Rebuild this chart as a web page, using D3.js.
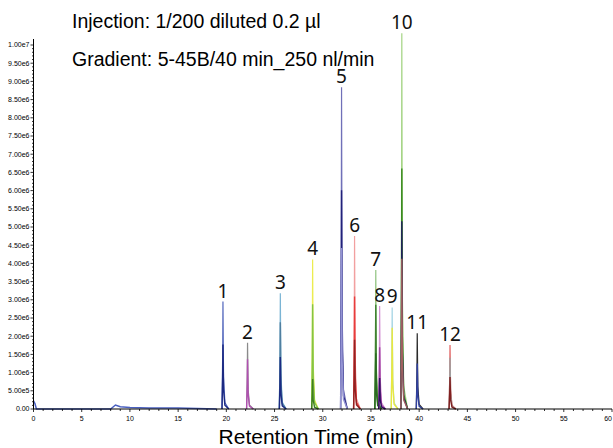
<!DOCTYPE html>
<html>
<head>
<meta charset="utf-8">
<script src="https://cdn.jsdelivr.net/npm/d3@7"></script>
<style>
  body { margin: 0; background: #fff; }
  svg { display: block; }
</style>
</head>
<body>
<div id="chart"></div>
<script>
// peaks
let peakLabels = ["1", "2", "3", "4", "5", "6", "7", "8", "9", "10", "11", "12"];
let peakTimes = [19.65, 22.2, 25.6, 28.95, 31.95, 33.3, 35.5, 35.9, 37.2, 38.2, 39.8, 43.2];
let peakHeights = [2.95e6, 1.82e6, 3.18e6, 4.11e6, 8.84e6, 4.75e6, 3.82e6, 2.83e6, 2.79e6, 1.032e7, 2.08e6, 1.76e6];
// relative height of each overlaid ion trace in a peak
let peakParts = [
    [1, 0.6],
    [1, 0.75],
    [1, 0.75, 0.45],
    [1, 0.7, 0.2],
    [1, 0.68, 0.5],
    [1, 0.65, 0.4],
    [1, 0.75, 0.4],
    [1, 0.6, 0.3],
    [1, 0.8],
    [1, 0.64, 0.5, 0.4],
    [1, 0.6],
    [1, 0.8, 0.5]
];
// low baseline trace (min, intensity)
let baseTimes = [0, 0.15, 0.3, 8, 8.5, 9, 10, 12, 15, 18, 19];
let baseValues = [2.2e5, 1.5e5, 0, 0, 1.1e5, 0.6e5, 0.4e5, 0.3e5, 0.25e5, 0.1e5, 0];

let xTicks = [0, 5, 10, 15, 20, 25, 30, 35, 40, 45, 50, 55, 60];
let yTicks = d3.range(0, 20.5).map(function(i) { return i * 5e5; });

let partColors = [
    ["#5468bd", "#1c2a82"],
    ["#8a8a8a", "#b050b0"],
    ["#7ab4d4", "#4f7fa0", "#1c2a82"],
    ["#ecec50", "#84c444", "#3f8020"],
    ["#7070b8", "#22227a", "#9494d4"],
    ["#f2a0a0", "#e83c3c", "#902222"],
    ["#92c482", "#3f8030", "#2a6a20"],
    ["#d492d4", "#a040a0", "#301060"],
    ["#a4d4e4", "#e8e840"],
    ["#a4d484", "#3a8a20", "#20205e", "#a06060"],
    ["#2a2a2a", "#3040a0"],
    ["#e06060", "#a0a0a0", "#802020"]
];

let W = 613, H = 448;
let margin = {top: 28, right: 1, bottom: 39, left: 33.5};
let width = W - margin.left - margin.right;
let height = H - margin.top - margin.bottom;

let svg = d3.select("#chart").append("svg")
    .attr("width", W)
    .attr("height", H);

let g = svg.append("g")
    .attr("transform", "translate(" + margin.left + "," + margin.top + ")");

let x = d3.scaleLinear().domain([0, 60]).range([0, 578.5]);
let y = d3.scaleLinear().domain([0, 1e7]).range([height, height - 364]);

let line = d3.line()
    .x(function(d) { return x(d[0]); })
    .y(function(d) { return y(d[1]); });

// baseline trace
g.append("path")
    .datum(d3.zip(baseTimes, baseValues))
    .attr("fill", "none")
    .attr("stroke", "#4a60c0")
    .attr("stroke-width", 1.5)
    .attr("d", line);

// peak traces, each peak drawn as stacked ion traces
peakTimes.forEach(function(t, i) {
    let h = peakHeights[i];
    peakParts[i].forEach(function(f, j) {
        let v = h * f;
        let pts = [[t - 0.1, 0], [t - 0.03, v * 0.5], [t, v], [t + 0.06, v * 0.3],
                   [t + 0.2, v * 0.06], [t + 0.6, 0]];
        g.append("path")
            .datum(pts)
            .attr("fill", "none")
            .attr("stroke", partColors[i][j])
            .attr("stroke-width", j === 0 ? 1.2 : 1.4)
            .attr("d", line);
    });
});

// y axis
let yAxis = g.append("g").attr("class", "axis");
yAxis.append("line")
    .attr("x1", 0).attr("x2", 0)
    .attr("y1", height).attr("y2", y(1e7) - 6)
    .attr("stroke", "#000").attr("stroke-width", 1);
d3.range(0, 101).forEach(function(i) {
    yAxis.append("line")
        .attr("x1", 0).attr("x2", i % 5 === 0 ? -3 : -1.5)
        .attr("y1", y(i * 1e5)).attr("y2", y(i * 1e5))
        .attr("stroke", "#000").attr("stroke-width", 0.8);
});
yAxis.selectAll("text.ytick")
    .data(yTicks)
    .enter().append("text")
    .attr("class", "ytick")
    .attr("x", -4)
    .attr("y", function(d) { return y(d); })
    .attr("dy", "0.35em")
    .attr("text-anchor", "end")
    .attr("font-family", "'Liberation Sans Narrow', 'Liberation Sans', Arial, sans-serif")
    .attr("font-size", 7)
    .text(function(d) {
        if (d === 0) return "0.00";
        let e = Math.floor(Math.log10(d));
        return (d / Math.pow(10, e)).toFixed(2) + "e" + e;
    });

// x axis
let xAxis = g.append("g").attr("class", "axis")
    .attr("transform", "translate(0," + height + ")");
xAxis.append("line")
    .attr("x1", 0).attr("x2", x(60))
    .attr("stroke", "#000").attr("stroke-width", 1);
d3.range(0, 61).forEach(function(i) {
    xAxis.append("line")
        .attr("x1", x(i)).attr("x2", x(i))
        .attr("y1", 0).attr("y2", i % 5 === 0 ? 3 : 2)
        .attr("stroke", "#000").attr("stroke-width", 0.8);
});
xAxis.selectAll("text.xtick")
    .data(xTicks)
    .enter().append("text")
    .attr("class", "xtick")
    .attr("x", function(d) { return x(d); })
    .attr("y", 12)
    .attr("text-anchor", function(d) { return d === 60 ? "end" : "middle"; })
    .attr("font-family", "'Liberation Sans Narrow', 'Liberation Sans', Arial, sans-serif")
    .attr("font-size", 7)
    .text(function(d) { return d; });

// peak numbers
g.selectAll("text.peak")
    .data(peakLabels)
    .enter().append("text")
    .attr("class", "peak")
    .attr("x", function(d, i) { return x(peakTimes[i]); })
    .attr("y", function(d, i) { return y(peakHeights[i]) - 4; })
    .attr("text-anchor", "middle")
    .attr("font-family", "'Noto Sans', 'Open Sans', sans-serif")
    .attr("font-size", 19)
    .attr("fill", "#111")
    .text(function(d) { return d; });

// annotations
svg.append("text")
    .attr("x", 72).attr("y", 28)
    .attr("font-family", "'Liberation Sans', Arial, sans-serif")
    .attr("font-size", 19.5)
    .text("Injection: 1/200 diluted 0.2 µl");
svg.append("text")
    .attr("x", 72).attr("y", 66)
    .attr("font-family", "'Liberation Sans', Arial, sans-serif")
    .attr("font-size", 19.5)
    .text("Gradient: 5-45B/40 min_250 nl/min");
svg.append("text")
    .attr("x", 316).attr("y", 444)
    .attr("text-anchor", "middle")
    .attr("font-family", "'Liberation Sans', Arial, sans-serif")
    .attr("font-size", 21)
    .text("Retention Time (min)");
</script>
</body>
</html>
